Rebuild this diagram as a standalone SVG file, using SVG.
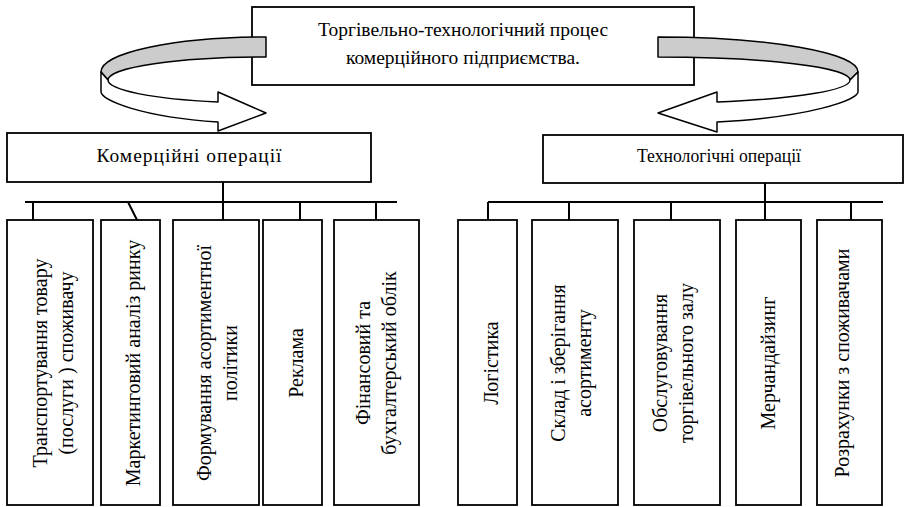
<svg xmlns="http://www.w3.org/2000/svg" width="911" height="507" viewBox="0 0 911 507">
<style>
.box{fill:#fff;stroke:#000;stroke-width:1.8}
.t{font-family:"Liberation Serif","Times New Roman",serif;font-size:19.5px;fill:#000;text-anchor:middle}
.v{font-family:"Liberation Serif","Times New Roman",serif;font-size:20px;fill:#000;text-anchor:middle}
.ln{stroke:#000;stroke-width:2;fill:none}
.rib{stroke:#000;stroke-width:1.5;stroke-linejoin:round}
.back{fill:#cccccc}
.front{fill:#fff}
</style>
<rect width="911" height="507" fill="#fff"/>
<g id="process">
<rect class="box" x="252" y="7" width="442" height="78"/>
<text class="t" x="463" y="36">Торгівельно-технологічний процес</text>
<text class="t" x="463" y="64">комерційного підприємства.</text>
</g>
<g id="commercial">
<rect class="box" x="7" y="133" width="364" height="49"/>
<text class="t" x="189" y="162" textLength="185">Комерційні операції</text>
</g>
<g id="technological">
<rect class="box" x="543" y="135" width="360" height="48"/>
<text class="t" x="719" y="162" textLength="164" lengthAdjust="spacingAndGlyphs">Технологічні операції</text>
</g>
<g id="transport">
<rect class="box" x="7" y="220" width="86" height="285"/>
<text class="v" transform="translate(47,363) rotate(-90)">Транспортування товару</text>
<text class="v" transform="translate(73,363) rotate(-90)">(послуги ) споживачу</text>
</g>
<g id="marketing">
<rect class="box" x="101" y="220" width="59" height="285"/>
<text class="v" transform="translate(140,363) rotate(-90)">Маркетинговий аналіз ринку</text>
</g>
<g id="assortment">
<rect class="box" x="173" y="220" width="86" height="285"/>
<text class="v" transform="translate(211,363) rotate(-90)">Формування асортиментної</text>
<text class="v" transform="translate(237,363) rotate(-90)">політики</text>
</g>
<g id="advertising">
<rect class="box" x="263" y="220" width="59" height="285"/>
<text class="v" transform="translate(303,363) rotate(-90)">Реклама</text>
</g>
<g id="accounting">
<rect class="box" x="334" y="220" width="85" height="285"/>
<text class="v" transform="translate(370,363) rotate(-90)">Фінансовий та</text>
<text class="v" transform="translate(396,363) rotate(-90)">бухгалтерський облік</text>
</g>
<g id="logistics">
<rect class="box" x="458" y="220" width="59" height="285"/>
<text class="v" transform="translate(498,363) rotate(-90)">Логістика</text>
</g>
<g id="storage">
<rect class="box" x="532" y="220" width="86" height="285"/>
<text class="v" transform="translate(565,363) rotate(-90)">Склад і зберігання</text>
<text class="v" transform="translate(591,363) rotate(-90)">асортименту</text>
</g>
<g id="hall">
<rect class="box" x="634" y="220" width="86" height="285"/>
<text class="v" transform="translate(667,363) rotate(-90)">Обслуговування</text>
<text class="v" transform="translate(693,363) rotate(-90)">торгівельного залу</text>
</g>
<g id="merchandising">
<rect class="box" x="736" y="220" width="65" height="285"/>
<text class="v" transform="translate(775,363) rotate(-90)">Мерчандайзинг</text>
</g>
<g id="settlements">
<rect class="box" x="817" y="220" width="65" height="285"/>
<text class="v" transform="translate(849,363) rotate(-90)">Розрахунки з споживачами</text>
</g>
<g id="connectors">
<path class="ln" d="M223,182V220 M25,202H397 M33,202V220 M128,202L137,220 M300,202V220 M376,202V220"/>
<path class="ln" d="M765,183V220 M488,202H883 M488,202V220 M569,202V220 M671,202V220 M851,202V220"/>
<path class="rib back" d="M266,37 A165,35 0 0 0 101,72 L108,80 A158,23 0 0 1 266,57 Z"/>
<path class="rib front" d="M101,72 L101,92 C102,100 140,117 218,122 L218,131 L266,113 L218,92 L218,102 A158,23 0 0 1 108,80 Z"/>
<path class="rib back" d="M658,37 A200,35 0 0 1 858,72 L850,80 A192,23 0 0 0 658,57 Z"/>
<path class="rib front" d="M858,72 L858,92 C857,100 811,117 717,122 L717,132 L658,113 L717,92 L717,102 A192,23 0 0 0 850,80 Z"/>
</g>
</svg>
